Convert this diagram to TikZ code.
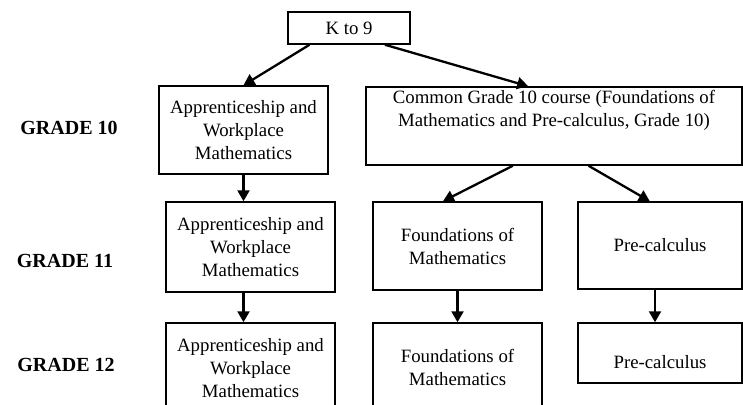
\documentclass[tikz,border=0pt]{standalone}
\usepackage{fontspec}
\setmainfont{Liberation Serif}
\usetikzlibrary{positioning, calc, arrows.meta}

\begin{document}
\begin{tikzpicture}[x=1pt, y=-1pt,
        box/.style={rectangle, draw, line width=1.5pt, align=center, inner sep=2pt,
                font=\fontsize{18.8}{23}\selectfont},
        grade/.style={font=\fontsize{20}{23}\selectfont\bfseries},
        flow/.style={line width=2.3pt, -{Triangle[length=11pt, width=12pt]}}]
        \useasboundingbox (0,0) rectangle (743,404);

        \node[box, minimum width=122pt, minimum height=32pt] (k9) at (349,28) {K to 9};

        \node[box, minimum width=169pt, minimum height=88pt] (app10) at (243.5,130) {Apprenticeship and\\Workplace\\Mathematics};
        \node[box, minimum width=376pt, minimum height=78pt,
                label={[box, draw=none, anchor=north, yshift=-1pt]north:Common Grade 10 course (Foundations of\\Mathematics and Pre-calculus, Grade 10)}] (common) at (554,126) {};

        \node[box, minimum width=169pt, minimum height=90pt] (app11) at (250.5,247) {Apprenticeship and\\Workplace\\Mathematics};
        \node[box, minimum width=169pt, minimum height=88pt] (found11) at (457.5,246) {Foundations of\\Mathematics};
        \node[box, minimum width=164pt, minimum height=87pt] (pre11) at (660,245.5) {Pre-calculus};

        \node[box, minimum width=169pt, minimum height=90pt] (app12) at (250.5,368) {Apprenticeship and\\Workplace\\Mathematics};
        \node[box, minimum width=169pt, minimum height=88pt] (found12) at (457.5,367) {Foundations of\\Mathematics};
        \node[box, minimum width=164pt, minimum height=60pt, text height=31pt] (pre12) at (660,353) {Pre-calculus};

        % grade labels
        \node[grade] (g10) at (69,128) {GRADE 10};
        \node[grade] (g11) at (65,261) {GRADE 11};
        \node[grade] (g12) at (66,365) {GRADE 12};

        \draw[flow] (k9.203) -- (app10.north);
        \draw[flow] (k9.-25) -- (common.123);
        \draw[flow] (common.224) -- (found11.108);
        \draw[flow] (common.-49) -- (pre11.103);

        \foreach \i/\j in {app10/app11, app11/app12} {
                \draw[flow] (\i.south -| app10.south) -- (\j.north -| app10.south);
        }
        \draw[flow] (found11) -- (found12);
        \draw[flow] ([xshift=-5pt]pre11.south) -- ([xshift=-5pt]pre12.north);
\end{tikzpicture}
\end{document}
